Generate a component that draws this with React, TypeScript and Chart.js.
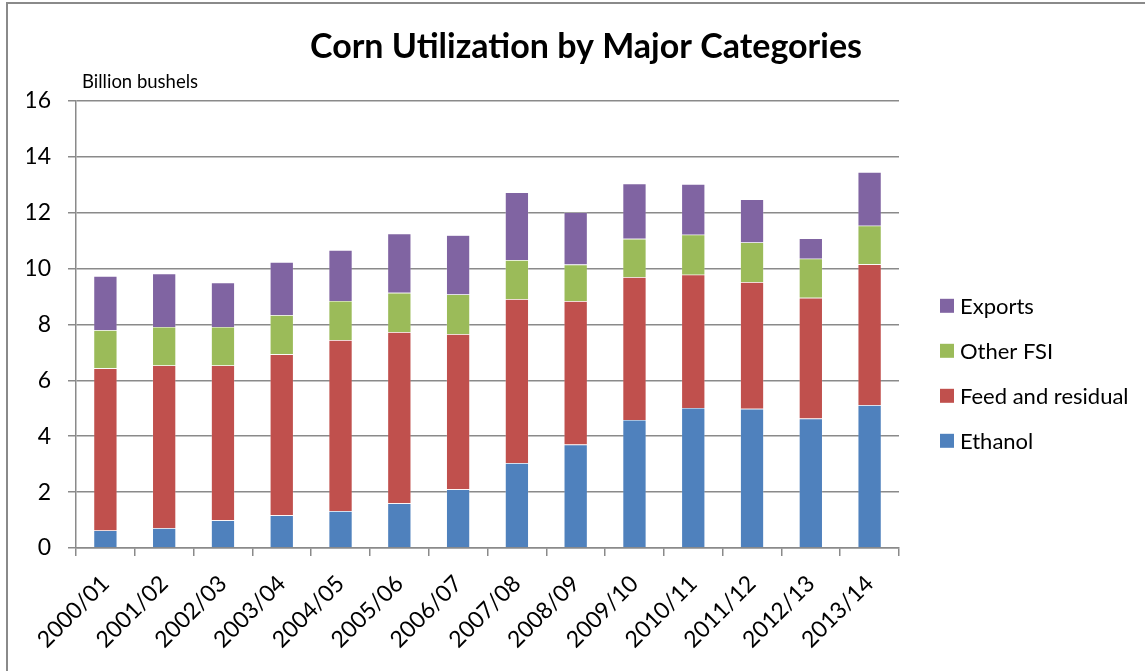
import React, { useEffect, useRef } from "react";
import { Chart, registerables } from "chart.js";

Chart.register(...registerables);

const categories = [
  "2000/01", "2001/02", "2002/03", "2003/04", "2004/05", "2005/06", "2006/07",
  "2007/08", "2008/09", "2009/10", "2010/11", "2011/12", "2012/13", "2013/14",
];
const ethanol = [0.63, 0.71, 0.99, 1.17, 1.32, 1.6, 2.1, 3.04, 3.7, 4.58, 5.01, 4.98, 4.63, 5.11];
const feedResidual = [5.8, 5.82, 5.54, 5.76, 6.12, 6.12, 5.55, 5.86, 5.13, 5.11, 4.77, 4.53, 4.32, 5.04];
const otherFSI = [1.36, 1.38, 1.38, 1.4, 1.4, 1.41, 1.42, 1.4, 1.31, 1.37, 1.43, 1.42, 1.4, 1.38];
const exportsVals = [1.94, 1.91, 1.58, 1.9, 1.82, 2.12, 2.12, 2.42, 1.87, 1.98, 1.81, 1.54, 0.73, 1.92];
const yTicks = [0, 2, 4, 6, 8, 10, 12, 14, 16];

const FONT = "Lato, 'Open Sans', sans-serif";
const GRID = "#8a8a8a";

export default function App() {
  const ref = useRef<HTMLCanvasElement>(null);

  useEffect(() => {
    const canvas = ref.current;
    if (!canvas) return;

    const decor = {
      id: "decor",
      beforeDraw(chart: any) {
        const ctx = chart.ctx;
        ctx.save();
        ctx.fillStyle = "#ffffff";
        ctx.fillRect(0, 0, chart.width, chart.height);
        ctx.strokeStyle = GRID;
        ctx.lineWidth = 2;
        ctx.beginPath();
        ctx.moveTo(7, chart.height);
        ctx.lineTo(7, 3);
        ctx.lineTo(chart.width, 3);
        ctx.stroke();
        ctx.restore();
      },
      afterDraw(chart: any) {
        const ctx = chart.ctx;
        const area = chart.chartArea;
        ctx.save();
        ctx.fillStyle = "#000";
        ctx.font = `18.5px ${FONT}`;
        ctx.textAlign = "left";
        ctx.textBaseline = "middle";
        ctx.fillText("Billion bushels", area.left + 6, area.top - 19);
        const ds = chart.data.datasets.slice().reverse();
        ctx.font = `22px ${FONT}`;
        ds.forEach((d: any, i: number) => {
          const cy = area.top + 205 + i * 45;
          const x = area.right + 41;
          ctx.fillStyle = d.backgroundColor;
          ctx.fillRect(x, cy - 7, 14, 14);
          ctx.fillStyle = "#000";
          ctx.fillText(d.label, x + 20, cy + 1);
        });
        ctx.restore();
      },
    };

    const chart = new Chart(canvas, {
      type: "bar",
      data: {
        labels: categories,
        datasets: [
          { label: "Ethanol", data: ethanol, backgroundColor: "#4F81BD" },
          { label: "Feed and residual", data: feedResidual, backgroundColor: "#C0504D" },
          { label: "Other FSI", data: otherFSI, backgroundColor: "#9BBB59" },
          { label: "Exports", data: exportsVals, backgroundColor: "#8064A2" },
        ].map((d) => ({
          ...d,
          borderColor: "rgba(255,255,255,0.35)",
          borderWidth: 0.6,
          barPercentage: 0.4,
          categoryPercentage: 1,
        })),
      },
      options: {
        responsive: false,
        animation: false,
        layout: { padding: { left: 27, right: 0, top: 0, bottom: 0 } },
        plugins: {
          legend: { display: false },
          tooltip: { enabled: false },
          title: {
            display: true,
            text: "Corn Utilization by Major Categories",
            color: "#000",
            font: { family: FONT, size: 34, weight: "bold" },
            padding: { top: 27, bottom: 33 },
          },
        },
        scales: {
          x: {
            stacked: true,
            grid: {
              offset: true,
              drawOnChartArea: false,
              drawTicks: true,
              tickLength: 8,
              color: GRID,
              lineWidth: 1.5,
            },
            border: { color: GRID, width: 1.5 },
            ticks: {
              color: "#000",
              font: { family: FONT, size: 23 },
              minRotation: 45,
              maxRotation: 45,
              padding: 14,
              autoSkip: false,
            },
            afterFit: (scale: any) => {
              scale.height = 123;
            },
          },
          y: {
            stacked: true,
            min: 0,
            max: 16,
            afterBuildTicks: (scale: any) => {
              scale.ticks = yTicks.map((v) => ({ value: v }));
            },
            grid: {
              color: GRID,
              lineWidth: 1.5,
              tickLength: 8,
            },
            border: { color: GRID, width: 1.5 },
            ticks: {
              color: "#000",
              font: { family: FONT, size: 23 },
              padding: 17,
            },
            afterFit: (scale: any) => {
              scale.width = 49;
            },
          },
          legendSpace: {
            type: "linear",
            position: "right",
            display: true,
            grid: { display: false, drawTicks: false },
            border: { display: false },
            ticks: { display: false },
            afterFit: (scale: any) => {
              scale.width = 246;
            },
          },
        },
      },
      plugins: [decor],
    });

    return () => chart.destroy();
  }, []);

  return (
    <div style={{ position: "fixed", left: 0, top: 0, width: 1145, height: 671, background: "#fff" }}>
      <canvas ref={ref} width={1145} height={671} style={{ display: "block" }} />
    </div>
  );
}
